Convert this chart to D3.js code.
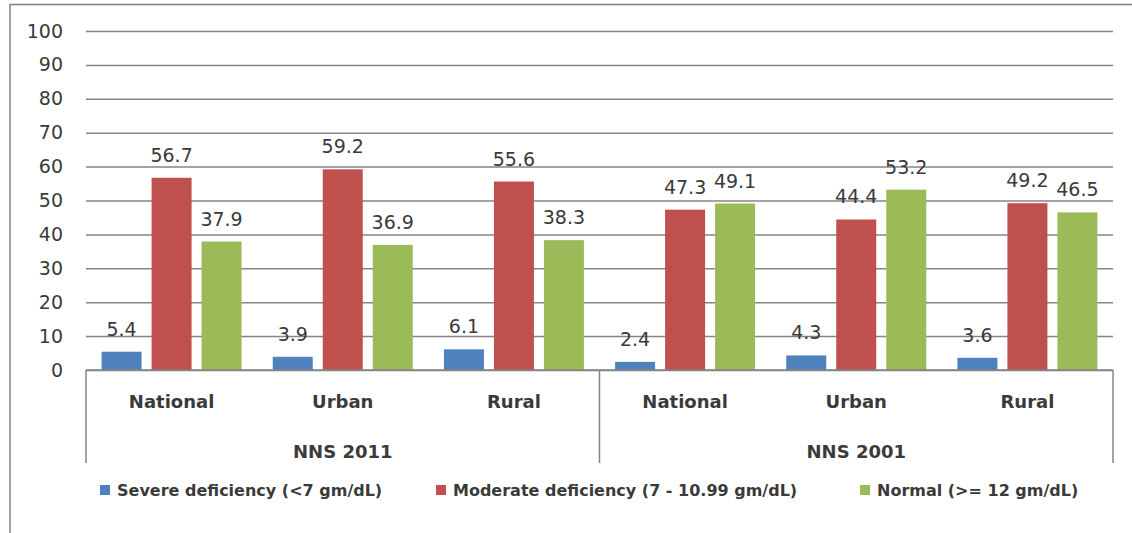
<!DOCTYPE html>
<html>
<head>
<meta charset="utf-8">
<script src="https://cdn.jsdelivr.net/npm/d3@7/dist/d3.min.js"></script>
<style>
  html, body { margin: 0; padding: 0; background: #fff; }
  svg { display: block; font-family: "DejaVu Sans", Verdana, sans-serif; }
</style>
</head>
<body>
<svg id="chart" width="1132" height="533"></svg>
<script>
// Haemoglobin status by survey round and area
const surveys = ["NNS 2011", "NNS 2001"];
const areas = ["National", "Urban", "Rural"];
const seriesNames = ["Severe deficiency (<7 gm/dL)", "Moderate deficiency (7 - 10.99 gm/dL)", "Normal (>= 12 gm/dL)"];
const severe   = [5.4, 3.9, 6.1, 2.4, 4.3, 3.6];
const moderate = [56.7, 59.2, 55.6, 47.3, 44.4, 49.2];
const normal   = [37.9, 36.9, 38.3, 49.1, 53.2, 46.5];
const yTicks = [0, 10, 20, 30, 40, 50, 60, 70, 80, 90, 100];
const colors = ["#4F81BD", "#C0504D", "#9BBB59"];

const svg = d3.select("#chart");
const plot = { left: 86, right: 1113, top: 31, bottom: 370 };
const textColor = "#3a3a3a";
const lineColor = "#858585";

// Outer frame (top and left edges)
svg.append("line").attr("x1", 10).attr("x2", 1132).attr("y1", 4.5).attr("y2", 4.5)
  .attr("stroke", "#808080").attr("stroke-width", 1.5);
svg.append("line").attr("x1", 10).attr("x2", 10).attr("y1", 4).attr("y2", 533)
  .attr("stroke", "#808080").attr("stroke-width", 1.5);

// Build the flat list of category slots (survey x area)
const slots = [];
surveys.forEach((s, si) => areas.forEach((a, ai) => slots.push({ survey: s, area: a, key: s + "|" + a, i: si * areas.length + ai })));
const seriesData = [severe, moderate, normal];

const x0 = d3.scaleBand().domain(slots.map(d => d.key)).range([plot.left, plot.right]).paddingInner(0).paddingOuter(0);
const x1 = d3.scaleBand().domain(seriesNames).range([0, x0.bandwidth()]).paddingInner(0.2).paddingOuter(0.312);
const y = d3.scaleLinear().domain([0, 100]).range([plot.bottom, plot.top]);

// Gridlines
const grid = svg.append("g").attr("transform", `translate(${plot.left},0)`)
  .call(d3.axisLeft(y).tickValues(yTicks).tickSize(-(plot.right - plot.left)).tickFormat(""));
grid.select(".domain").remove();
grid.selectAll("line").attr("stroke", lineColor).attr("stroke-width", 1.5);

// Y tick labels
const yAxis = svg.append("g").attr("transform", `translate(${plot.left},0)`)
  .call(d3.axisLeft(y).tickValues(yTicks).tickSize(0).tickPadding(23));
yAxis.select(".domain").remove();
yAxis.selectAll("text").attr("fill", textColor).attr("font-size", 19)
  .attr("font-family", "'DejaVu Sans', sans-serif");

// Bars and value labels
slots.forEach(slot => {
  const g = svg.append("g").attr("transform", `translate(${x0(slot.key)},0)`);
  seriesNames.forEach((name, k) => {
    const v = seriesData[k][slot.i];
    g.append("rect")
      .attr("x", x1(name)).attr("width", x1.bandwidth())
      .attr("y", y(v)).attr("height", y(0) - y(v))
      .attr("fill", colors[k]);
    g.append("text")
      .attr("x", x1(name) + x1.bandwidth() / 2).attr("y", y(v) - 16)
      .attr("text-anchor", "middle").attr("font-size", 19).attr("fill", textColor)
      .text(v.toFixed(1));
  });
});

// Category axis baseline
svg.append("line").attr("x1", plot.left).attr("x2", plot.right)
  .attr("y1", y(0)).attr("y2", y(0)).attr("stroke", lineColor).attr("stroke-width", 1.5);

// Area labels (first level)
const xAxis = svg.append("g").attr("transform", `translate(0,${plot.bottom})`)
  .call(d3.axisBottom(x0).tickSize(0).tickPadding(25).tickFormat(k => k.split("|")[1]));
xAxis.select(".domain").remove();
xAxis.selectAll("text").attr("fill", textColor).attr("font-size", 18).attr("font-weight", "bold")
  .attr("font-family", "'DejaVu Sans', sans-serif");

// Survey group separators and labels (second level)
const groupW = x0.bandwidth() * areas.length;
const sepBottom = 463;
d3.range(surveys.length + 1).forEach(i => {
  const xx = plot.left + i * groupW;
  svg.append("line").attr("x1", xx).attr("x2", xx).attr("y1", y(0)).attr("y2", sepBottom)
    .attr("stroke", lineColor).attr("stroke-width", 1.5);
});
surveys.forEach((s, i) => {
  svg.append("text").attr("x", plot.left + (i + 0.5) * groupW).attr("y", 458)
    .attr("text-anchor", "middle").attr("font-size", 18).attr("font-weight", "bold")
    .attr("fill", textColor).text(s);
});

// Legend
const legendX = [100, 436, 860];
seriesNames.forEach((name, k) => {
  const lg = svg.append("g").attr("transform", `translate(${legendX[k]},485)`);
  lg.append("rect").attr("width", 10).attr("height", 10).attr("fill", colors[k]);
  lg.append("text").attr("x", 17).attr("y", 10.5).attr("font-size", 16).attr("font-weight", "bold")
    .attr("fill", textColor).text(name);
});
</script>
</body>
</html>
